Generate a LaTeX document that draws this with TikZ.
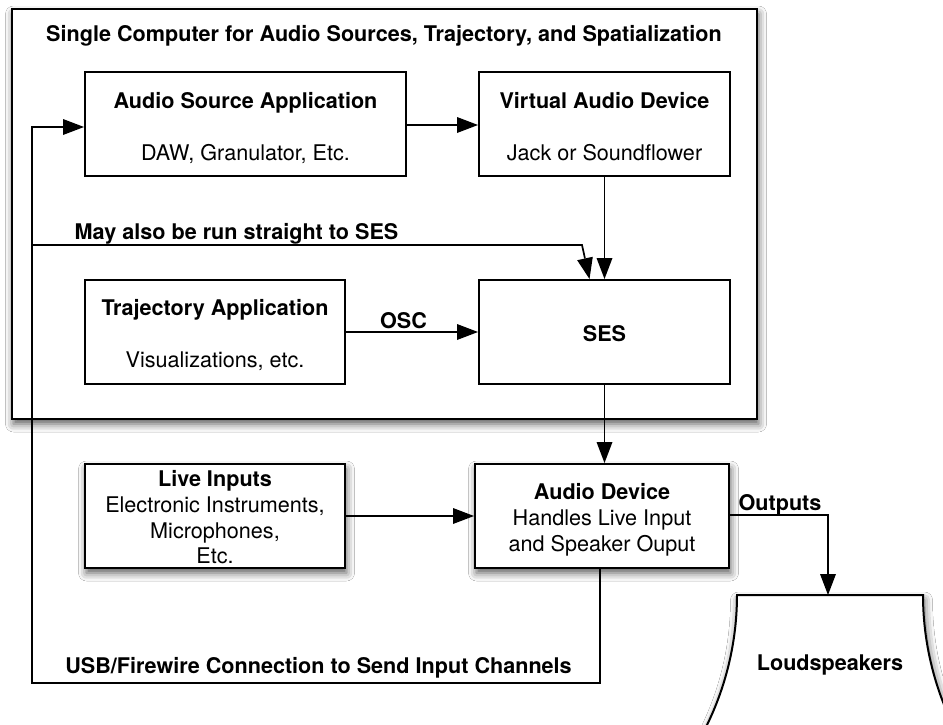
\documentclass[tikz,border=0pt]{standalone}
\usepackage{fontspec}
\setmainfont{TeX Gyre Heros}
\usetikzlibrary{arrows.meta,shadows.blur,calc}

\begin{document}
\begin{tikzpicture}[x=1pt,y=-1pt,
  box/.style={draw, line width=2pt, fill=white, inner sep=0pt, minimum height=104pt},
  shade/.style={blur shadow={shadow xshift=1.5pt, shadow yshift=-5pt, shadow blur radius=8pt, shadow opacity=65}},
  wire/.style={line width=1.7pt, draw=black},
  link/.style={wire, -{Triangle[length=21pt,width=16pt,fill=black,line width=0pt]}},
  head/.style={font=\fontsize{21.6}{25}\selectfont\bfseries, anchor=base, inner sep=0pt},
  body/.style={font=\fontsize{21.6}{25}\selectfont, anchor=base, inner sep=0pt},
]
\useasboundingbox (0,0) rectangle (943,725);
\fill[white] (0,0) rectangle (943,725);

% the computer enclosure
\node[box, shade, minimum width=745pt, minimum height=410pt] (computer) at (384.5,214) {};
\node[head] (computertitle) at (384,42) {Single Computer for Audio Sources, Trajectory, and Spatialization};

% software blocks
\node[box, minimum width=321pt] (asa)  at (245.5,124) {};
\node[box, minimum width=251pt] (vad)  at (604.5,124) {};
\node[box, minimum width=260pt] (traj) at (215,332) {};
\node[box, minimum width=251pt] (ses)  at (604.5,332) {};

\node[head] (asatitle) at (245.5,108) {Audio Source Application};
\node[body] (asatext)  at (245.5,160) {DAW, Granulator, Etc.};
\node[head] (vadtitle) at (604.5,108) {Virtual Audio Device};
\node[body] (vadtext)  at (604.5,160) {Jack or Soundflower};
\node[head] (trajtitle) at (215,315) {Trajectory Application};
\node[body] (trajtext)  at (215,367) {Visualizations, etc.};
\node[head] (sestitle)  at (604.5,341) {SES};

% hardware blocks
\node[box, shade, minimum width=260pt] (live) at (215,516) {};
\node[box, shade, minimum width=254pt] (dev)  at (602,516) {};

\node[head] (livetitle) at (215,486) {Live Inputs};
\node[body] (live1) at (215,512) {Electronic Instruments,};
\node[body] (live2) at (215,538) {Microphones,};
\node[body] (live3) at (215,563) {Etc.};

\node[head] (devtitle) at (602,499) {Audio Device};
\node[body] (dev1) at (602,525) {Handles Live Input};
\node[body] (dev2) at (602,551) {and Speaker Ouput};

% loudspeaker horn
\path[draw, line width=2pt, fill=white, shade]
  (737,595) -- (923,595)
  .. controls (923,647.6) and (937.1,699.6) .. (963.7,745)
  -- (696.3,745)
  .. controls (722.9,699.6) and (737,647.6) .. (737,595) -- cycle;
\coordinate (spktop) at (828,595);
\node[head] (speaker) at (830,670) {Loudspeakers};

% connectors
\draw[link] (asa.east |- 0,125) -- (vad.west |- 0,125);
\draw[link] (vad.south) -- (ses.north);
\draw[link] (traj) -- (ses);
\node[head] (osc) at (403.5,328) {OSC};

\coordinate (loopleft) at (32,683);
\coordinate (bypass) at (32,245);
\coordinate (bend) at (582,245);
\draw[link] (bypass) -- (bend) -- ($(ses.north)+(-15,0)$);
\node[head] (bypasslabel) at (236.5,239) {May also be run straight to SES};

\draw[link] (ses.south) -- (ses.south |- dev.north);
\draw[link] (live) -- (dev);

\draw[link] (dev.east |- 0,515) -| (spktop);
\node[head] (outlabel) at (780,510) {Outputs};

\coordinate (devout) at (600,568);
\draw[link] (devout) -- (600,683) -- (loopleft) -- (32,127) -- (asa.west |- 0,127);
\node[head] (usblabel) at (318.5,673) {USB/Firewire Connection to Send Input Channels};
\end{tikzpicture}
\end{document}
